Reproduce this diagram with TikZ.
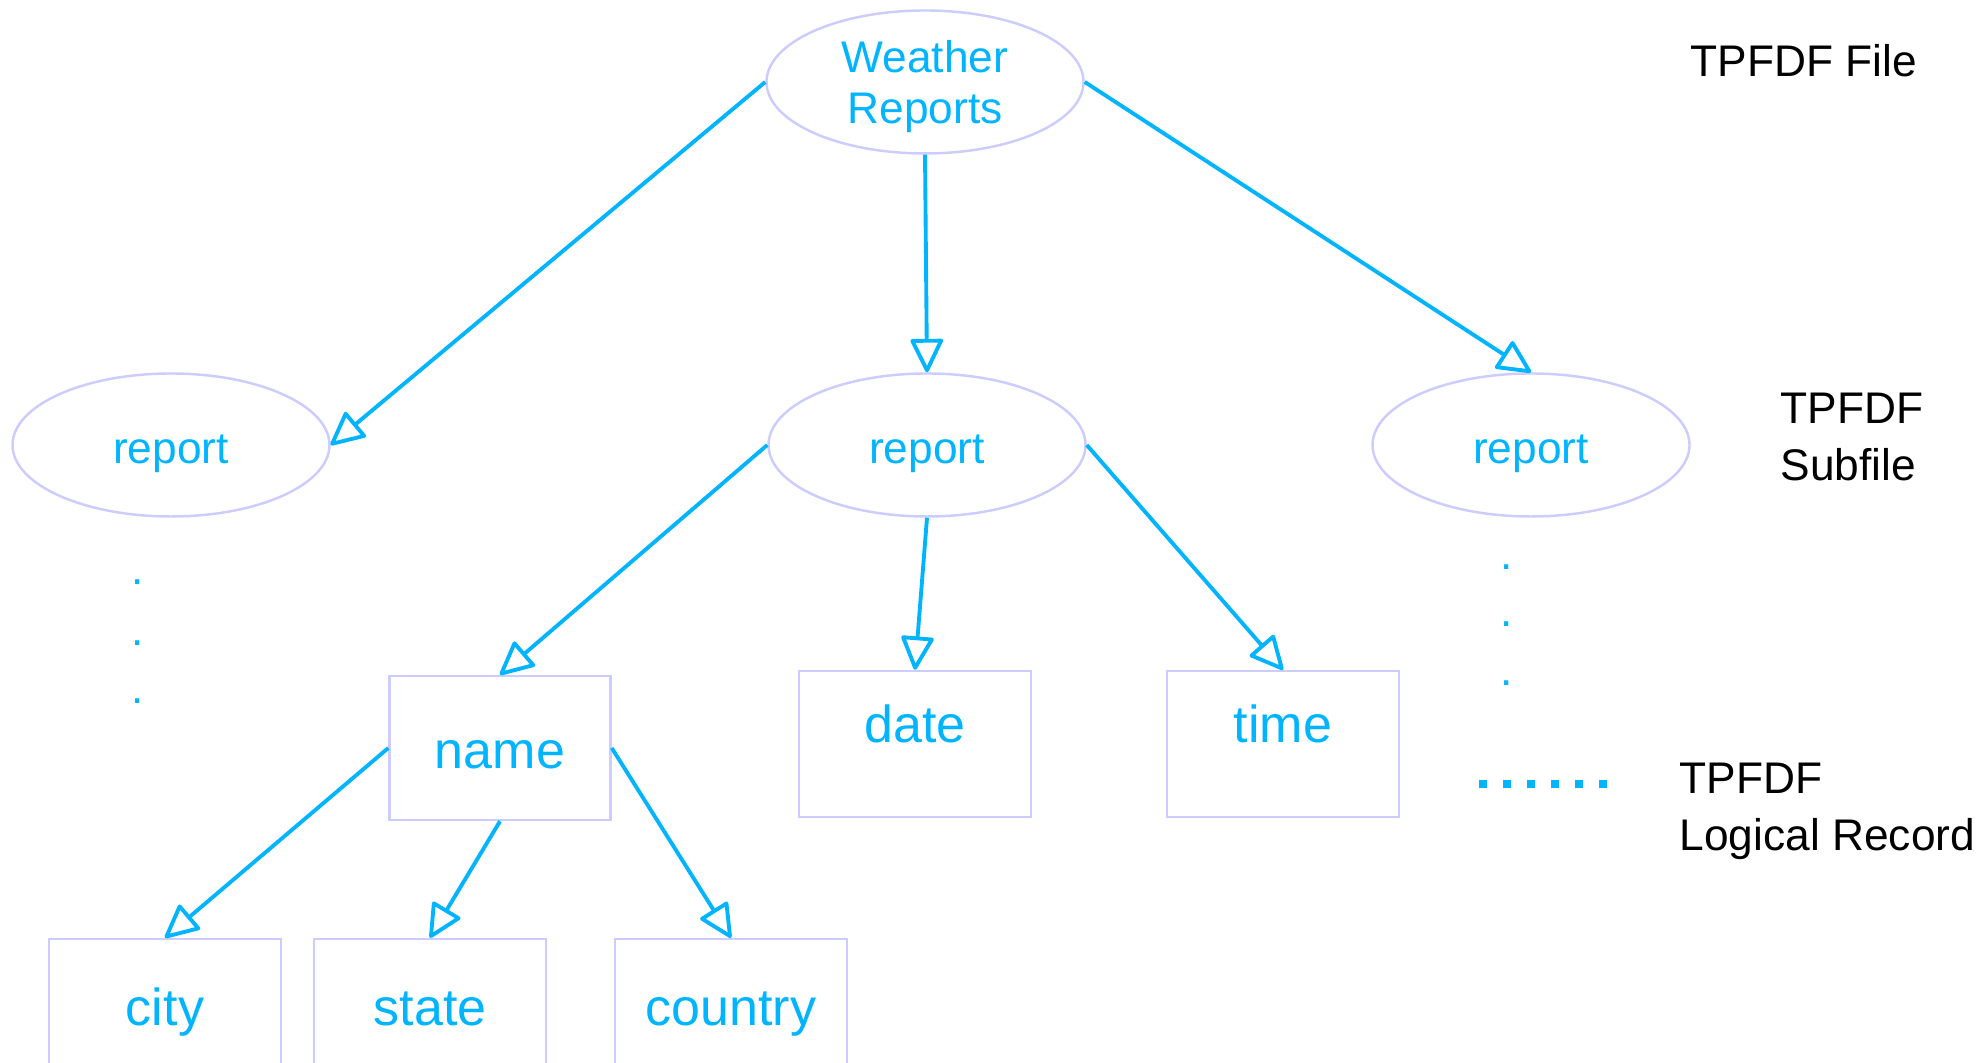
\documentclass[tikz,border=0pt]{standalone}
\usepackage{fontspec}
\setmainfont{Liberation Sans}
\usetikzlibrary{shapes.geometric,arrows.meta}
\definecolor{tpfblue}{RGB}{0,180,255}
\definecolor{tpfedge}{RGB}{204,204,255}

\begin{document}
\begin{tikzpicture}[
		subfile/.style = {
			shape = ellipse,
			draw = tpfedge,
			line width = 0.7pt,
			minimum width = 3.17cm,
			minimum height = 1.43cm,
			inner sep = 0pt,
			text = tpfblue,
			align = center,
			font = \fontsize{12.6}{14.4}\selectfont,
		},
		field/.style = {
			shape = rectangle,
			draw = tpfedge,
			line width = 0.7pt,
			minimum width = 2.32cm,
			minimum height = 1.46cm,
			text = tpfblue,
			font = \fontsize{14.8}{17}\selectfont,
		},
		legend/.style = {
			anchor = west,
			inner sep = 0pt,
			align = left,
			font = \fontsize{12.6}{16.2}\selectfont,
		},
		etc/.style = {
			inner sep = 0pt,
			text = tpfblue,
			font = \fontsize{12.6}{14}\selectfont,
		},
		link/.style = {
			draw = tpfblue,
			line width = 1.1pt,
			-{Triangle[open, length = 0.36cm, width = 0.34cm, round]},
		},
	]
	\useasboundingbox (0, 0) rectangle (19.84, 10.63);
	\clip (0, 0) rectangle (19.84, 10.63);

	\draw (9.25, 9.81) node (file) [subfile, text depth = 0pt] {Weather\\Reports};
	\draw (1.71, 6.18) node (rep1) [subfile, text height = 0.46cm, text depth = 0.09cm] {report};
	\draw (9.27, 6.18) node (rep2) [subfile, text height = 0.46cm, text depth = 0.09cm] {report};
	\draw (15.31, 6.18) node (rep3) [subfile, text height = 0.46cm, text depth = 0.09cm] {report};

	\draw (5.00, 3.15) node (name) [field, minimum width = 2.21cm, minimum height = 1.44cm, text height = 0.42cm] {name};
	\draw (9.15, 3.19) node (date) [field, text depth = 0.4cm] {date};
	\draw (12.83, 3.19) node (time) [field, text depth = 0.4cm] {time};
	\draw (1.65, 0.51) node (city) [field, text height = 0.38cm, text depth = 0.1cm] {city};
	\draw (4.30, 0.51) node (state) [field, text height = 0.38cm, text depth = 0.1cm] {state};
	\draw (7.31, 0.51) node (country) [field, text height = 0.38cm, text depth = 0.1cm] {country};

	\draw (1.38, 4.81) node (dotl1) [etc] {.};
	\draw (1.38, 4.20) node (dotl2) [etc] {.};
	\draw (1.38, 3.62) node (dotl3) [etc] {.};
	\draw (15.07, 4.96) node (dotr1) [etc] {.};
	\draw (15.07, 4.39) node (dotr2) [etc] {.};
	\draw (15.07, 3.80) node (dotr3) [etc] {.};

	\draw (16.90, 10.02) node (lblfile) [legend] {TPFDF File};
	\draw (17.80, 6.26) node (lblsub) [legend] {TPFDF\\Subfile};
	\draw (16.79, 2.52) node (lblrec) [legend] {TPFDF\\Logical Record};

	\coordinate (reca) at (14.79, 2.79);
	\coordinate (recb) at (16.07, 2.79);
	\draw [tpfblue, line width = 0.08cm, dash pattern = on 0.08cm off 0.16cm] (reca) -- (recb);

	\draw [link] (file.west) -- (rep1.east);
	\draw [link] (file.south) -- (rep2.north);
	\draw [link] (file.east) -- (rep3.north);
	\draw [link] (rep2.west) -- (name.north);
	\draw [link] (rep2.south) -- (date.north);
	\draw [link] (rep2.east) -- (time.north);
	\draw [link] (name.west) -- (city.north);
	\draw [link] (name.south) -- (state.north);
	\draw [link] (name.east) -- (country.north);
\end{tikzpicture}
\end{document}
